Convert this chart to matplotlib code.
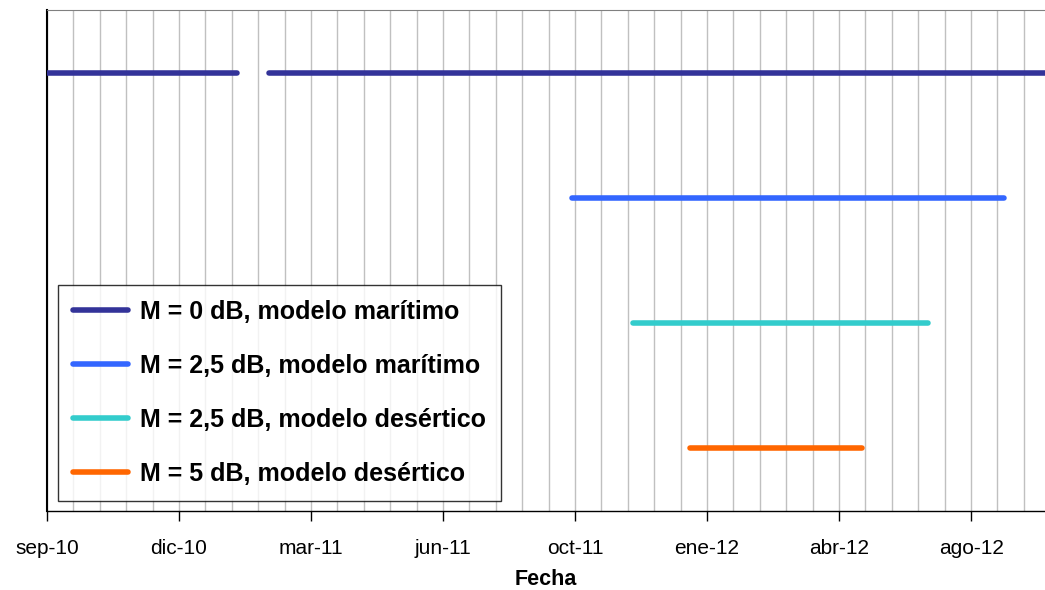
import numpy as np
import matplotlib
matplotlib.use("Agg")
import matplotlib.pyplot as plt
import matplotlib.dates as mdates

plt.rcParams['font.family'] = ['Liberation Sans', 'DejaVu Sans']

# series: (start, end) date segments, one row per series
labels = ["M = 0 dB, modelo marítimo",
          "M = 2,5 dB, modelo marítimo",
          "M = 2,5 dB, modelo desértico",
          "M = 5 dB, modelo desértico"]
seg_starts = [["2010-09-01", "2011-02-16"],
              ["2011-10-04"],
              ["2011-11-19"],
              ["2012-01-01"]]
seg_ends = [["2011-01-23", "2012-10-15"],
            ["2012-08-26"],
            ["2012-06-29"],
            ["2012-05-10"]]
levels = [3.5, 2.5, 1.5, 0.5]
colors = ["#333399", "#3366FF", "#33CCCC", "#FF6600"]

tick_dates = ["2010-09-01", "2010-12-10", "2011-03-20", "2011-06-28",
              "2011-10-06", "2012-01-14", "2012-04-23", "2012-08-01"]
tick_labels = ["sep-10", "dic-10", "mar-11", "jun-11",
               "oct-11", "ene-12", "abr-12", "ago-12"]
x_start, x_end = "2010-09-01", "2012-09-26"

fig = plt.figure(figsize=(10.45, 5.9), dpi=100)
ax = fig.add_axes([0.045, 0.134, 0.955, 0.849])

for i in range(len(labels)):
    for k, (s, e) in enumerate(zip(seg_starts[i], seg_ends[i])):
        xs = mdates.date2num(np.array([s, e], dtype="datetime64[D]"))
        ax.plot(xs, [levels[i], levels[i]], color=colors[i], lw=4,
                solid_capstyle='round', label=labels[i] if k == 0 else None,
                zorder=3)

x0 = mdates.date2num(np.datetime64(x_start))
x1 = mdates.date2num(np.datetime64(x_end))
ax.set_xlim(x0, x1)
ax.set_ylim(0, 4)

major = mdates.date2num(np.array(tick_dates, dtype="datetime64[D]"))
ax.set_xticks(major)
ax.set_xticklabels(tick_labels, fontsize=15)
ax.set_xticks(np.arange(x0, x1, 20), minor=True)
ax.tick_params(axis='x', which='major', length=7, width=1, pad=13)
ax.tick_params(axis='x', which='minor', length=0)
ax.grid(True, axis='x', which='both', color='#c0c0c0', lw=1, zorder=0)
ax.set_yticks([])

ax.spines['top'].set_color('#808080')
ax.spines['right'].set_visible(False)
ax.spines['left'].set_linewidth(1.5)
ax.spines['bottom'].set_linewidth(1)

ax.set_xlabel("Fecha", fontsize=15.5, fontweight='bold', labelpad=8)

leg = ax.legend(loc='lower left', bbox_to_anchor=(0.011, 0.02), frameon=True,
                fancybox=False, edgecolor='black', handlelength=2.2,
                labelspacing=1.2, borderpad=0.6, handletextpad=0.48,
                borderaxespad=0, prop={'size': 18, 'weight': 'bold'})
leg.get_frame().set_linewidth(1)

fig.savefig("out.png", dpi=100)
